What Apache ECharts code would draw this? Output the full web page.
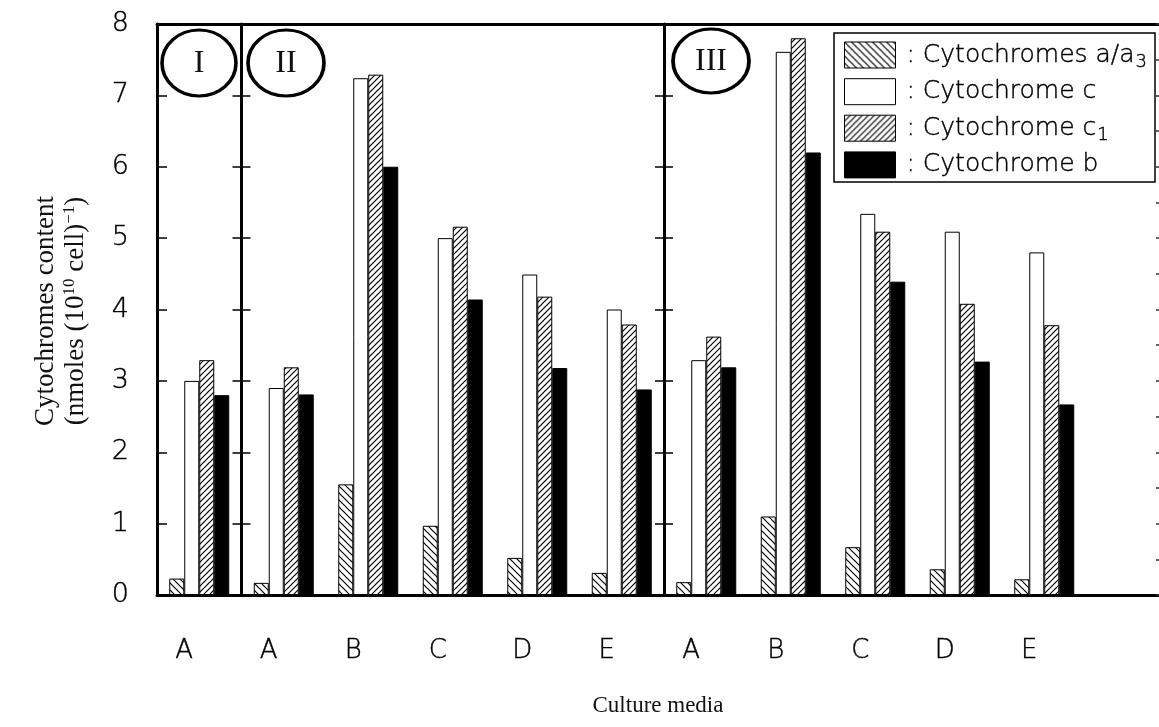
<!DOCTYPE html>
<html>
<head>
<meta charset="utf-8">
<script src="https://cdn.jsdelivr.net/npm/echarts@6/dist/echarts.min.js"></script>
<style>
html,body{margin:0;padding:0;background:#fff;overflow:hidden;}
#chart{width:1171px;height:727px;}
</style>
</head>
<body>
<div id="chart"></div>
<script>
// ---- data ----
const categories = ['A','A','B','C','D','E','A','B','C','D','E'];
const seriesNames = ['Cytochromes a/a3','Cytochrome c','Cytochrome c1','Cytochrome b'];
const cytAA3 = [0.23, 0.17, 1.55, 0.97, 0.52, 0.31, 0.18, 1.10, 0.67, 0.36, 0.22];
const cytC   = [3.00, 2.90, 7.24, 5.00, 4.49, 4.00, 3.29, 7.61, 5.34, 5.09, 4.80];
const cytC1  = [3.29, 3.19, 7.29, 5.16, 4.18, 3.79, 3.62, 7.80, 5.09, 4.08, 3.78];
const cytB   = [2.80, 2.81, 6.00, 4.14, 3.18, 2.88, 3.19, 6.20, 4.39, 3.27, 2.67];
const yTicks = [0,1,2,3,4,5,6,7,8];
const groupLabels = ['I','II','III'];

// ---- patterns ----
function hatch(dir, size, lw) {
  const c = document.createElement('canvas');
  c.width = size; c.height = size;
  const g = c.getContext('2d');
  g.fillStyle = '#fff'; g.fillRect(0,0,size,size);
  g.strokeStyle = '#000'; g.lineWidth = lw;
  g.beginPath();
  if (dir === '/') {
    g.moveTo(-1,size+1); g.lineTo(size+1,-1);
    g.moveTo(-2,2); g.lineTo(2,-2);
    g.moveTo(size-2,size+2); g.lineTo(size+2,size-2);
  } else {
    g.moveTo(-1,-1); g.lineTo(size+1,size+1);
    g.moveTo(size-2,-2); g.lineTo(size+2,2);
    g.moveTo(-2,size-2); g.lineTo(2,size+2);
  }
  g.stroke();
  return c;
}
const patBack = { image: hatch('\\', 7, 1.2), repeat: 'repeat' };
const patFwd  = { image: hatch('/', 6, 1.2), repeat: 'repeat' };

const chart = echarts.init(document.getElementById('chart'), null, {renderer:'canvas'});

const gridLeft = 157, gridTop = 24, gridBottom = 132, nCat = categories.length + 1;
const catW = 84.5, gridW = catW * nCat;

const tickFont = 'DejaVu Sans';
const thinText = { color:'#000', fontFamily: tickFont, fontWeight:200, textBorderColor:'#000', textBorderWidth:0.4 };
const yCommon = { type:'value', min:0, max:8, interval:1, splitLine:{show:false}, axisLabel:{show:false} };

const barBase = { type:'bar', barWidth:15, barGap:'0%', xAxisIndex:0, yAxisIndex:0 };

const option = {
  animation: false,
  backgroundColor: '#fff',
  grid: { left: gridLeft, top: gridTop, bottom: gridBottom, width: gridW, containLabel: false },
  xAxis: [
    { type:'category', data: categories.concat(['']), position:'bottom',
      axisLine:{ show:true, onZero:false, lineStyle:{ color:'#000', width:3 } },
      axisTick:{ show:false },
      axisLabel: Object.assign({ fontSize:26, margin:43, padding:[0,30,0,0] }, thinText),
      splitLine:{ show:false } },
    { type:'category', data: categories.concat(['']), position:'top',
      axisLine:{ show:true, onZero:false, lineStyle:{ color:'#000', width:3 } },
      axisTick:{ show:false }, axisLabel:{ show:false }, splitLine:{ show:false } }
  ],
  yAxis: [
    Object.assign({}, yCommon, { position:'left',
      axisLine:{ show:true, lineStyle:{ color:'#000', width:3 } },
      axisTick:{ show:true, inside:true, length:10, lineStyle:{ color:'#000', width:1.5 } },
      axisLabel: Object.assign({ show:true, fontSize:27, margin:28,
        formatter: v => yTicks.indexOf(v) >= 0 ? String(v) : '' }, thinText) }),
    Object.assign({}, yCommon, { position:'left', offset: -catW,
      axisLine:{ show:true, lineStyle:{ color:'#000', width:3 } },
      axisTick:{ show:true, inside:true, length:9, lineStyle:{ color:'#000', width:1.5 } } }),
    Object.assign({}, yCommon, { position:'left', offset: -catW,
      axisLine:{ show:false },
      axisTick:{ show:true, inside:false, length:9, lineStyle:{ color:'#000', width:1.5 } } }),
    Object.assign({}, yCommon, { position:'left', offset: -catW*6,
      axisLine:{ show:true, lineStyle:{ color:'#000', width:3 } },
      axisTick:{ show:true, inside:true, length:9, lineStyle:{ color:'#000', width:1.5 } } }),
    Object.assign({}, yCommon, { position:'left', offset: -catW*6,
      axisLine:{ show:false },
      axisTick:{ show:true, inside:false, length:9, lineStyle:{ color:'#000', width:1.5 } } }),
    Object.assign({}, yCommon, { position:'right', offset: -12, interval:0.5,
      axisLine:{ show:false },
      axisTick:{ show:true, inside:true, length:3, lineStyle:{ color:'#333', width:1.5 } } })
  ],
  legend: {
    orient:'vertical', left:839, top:34, itemWidth:51, itemHeight:26, itemGap:7,
    icon:'rect', z:10,
    data: seriesNames,
    itemStyle:{ borderColor:'#000', borderWidth:1 },
    formatter: name => {
      if (name === 'Cytochromes a/a3') return ': Cytochromes a/a{s|3}';
      if (name === 'Cytochrome c1') return ': Cytochrome c{s|1}';
      return ': ' + name;
    },
    textStyle: Object.assign({ fontSize:25, lineHeight:26, padding:[0,0,0,6],
      rich:{ s: Object.assign({ fontSize:18, lineHeight:26, padding:[14,0,0,1] }, thinText) } }, thinText)
  },
  graphic: [
    { type:'rect', z:5, shape:{ x:834, y:33, width:321, height:149 },
      style:{ fill:'#fff', stroke:'#000', lineWidth:1.5 } },
    { type:'circle', z:5, x:199, y:63, scaleX:37/33, shape:{ cx:0, cy:0, r:33 },
      style:{ fill:'none', stroke:'#000', lineWidth:3.2 } },
    { type:'circle', z:5, x:286, y:63, scaleX:38/33, shape:{ cx:0, cy:0, r:33 },
      style:{ fill:'none', stroke:'#000', lineWidth:3.2 } },
    { type:'circle', z:5, x:711, y:61, scaleX:38/32, shape:{ cx:0, cy:0, r:32 },
      style:{ fill:'none', stroke:'#000', lineWidth:3.2 } },
    { type:'text', z:6, x:199, y:64, style:{ text: groupLabels[0], font:'32px "Liberation Serif"', fill:'#111', textAlign:'center', textVerticalAlign:'middle' } },
    { type:'text', z:6, x:286, y:64, style:{ text: groupLabels[1], font:'32px "Liberation Serif"', fill:'#111', textAlign:'center', textVerticalAlign:'middle' } },
    { type:'text', z:6, x:711, y:62, style:{ text: groupLabels[2], font:'32px "Liberation Serif"', fill:'#111', textAlign:'center', textVerticalAlign:'middle' } },
    { type:'text', z:6, x:46, y:311, rotation: Math.PI/2,
      style:{ text:'Cytochromes content', font:'27px "Liberation Serif"', fill:'#111', textAlign:'center', textVerticalAlign:'middle' } },
    { type:'text', z:6, x:76, y:311, rotation: Math.PI/2,
      style:{ text:'(nmoles (10{sup|10} cell){sup|−1})', font:'27px "Liberation Serif"', fill:'#111', textAlign:'center', textVerticalAlign:'middle',
        rich:{ sup:{ font:'17px "Liberation Serif"', fill:'#111', padding:[0,0,12,0] } } } },
    { type:'text', z:6, x:658, y:706,
      style:{ text:'Culture media', font:'23px "Liberation Serif"', fill:'#111', textAlign:'center', textVerticalAlign:'middle' } }
  ],
  series: [
    Object.assign({}, barBase, { name: seriesNames[0], data: cytAA3,
      itemStyle:{ color: patBack, borderColor:'#000', borderWidth:1 } }),
    Object.assign({}, barBase, { name: seriesNames[1], data: cytC,
      itemStyle:{ color:'#fff', borderColor:'#000', borderWidth:1 } }),
    Object.assign({}, barBase, { name: seriesNames[2], data: cytC1,
      itemStyle:{ color: patFwd, borderColor:'#000', borderWidth:1 } }),
    Object.assign({}, barBase, { name: seriesNames[3], data: cytB,
      itemStyle:{ color:'#000', borderColor:'#000', borderWidth:1 } })
  ]
};
chart.setOption(option);
</script>
</body>
</html>
